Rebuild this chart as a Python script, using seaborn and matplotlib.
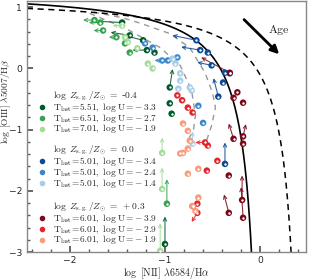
import numpy as np
import matplotlib
matplotlib.use('Agg')
import matplotlib.pyplot as plt
import pandas as pd
import seaborn as sns

# model tracks: x = log [NII]/Ha, y = log [OIII]/Hb
dg_x = [-1.45, -1.37, -1.23, -1.19, -1.11, -0.95, -0.95, -0.93, -1.00]
dg_y = [0.75, 0.54, 0.46, 0.30, 0.26, -0.31, -0.57, -0.74, -2.87]
dg_dx = [-0.25, -0.2, -0.2, -0.15, 0.0, 0.03, 0.0, 0.0, 0.0]
dg_dy = [0.02, 0.05, 0.08, 0.0, 0.0, 0.3, 0.0, 0.0, 0.45]

mg_x = [-1.74, -1.68, -1.65, -1.51, -1.42, -1.37, -0.98]
mg_y = [0.79, 0.75, 0.62, 0.51, 0.41, 0.26, -2.21]
mg_dx = [-0.12, -0.12, -0.1, -0.08, 0.0, 0.0, 0.0]
mg_dy = [0.0, 0.0, 0.0, 0.0, 0.0, 0.0, 0.4]

lg_x = [-1.45, -1.42, -1.39, -1.29, -1.18, -1.13, -1.03, -1.03, -1.05]
lg_y = [0.70, 0.51, 0.43, 0.33, 0.08, 0.00, -1.38, -1.97, -2.98]
lg_dx = [-0.1, 0.0, 0.0, 0.0, 0.0, 0.0, 0.0, 0.0, 0.0]
lg_dy = [0.0, 0.0, 0.0, 0.0, 0.0, 0.0, 0.25, 0.35, 0.45]

db_x = [-0.67, -0.63, -0.55, -0.51, -0.37, -0.32, -0.39, -0.44, -0.37]
db_y = [0.46, 0.30, 0.26, 0.05, -0.07, -0.08, -0.23, -0.46, -1.56]
db_dx = [-0.25, -0.2, 0.0, -0.15, 0.0, 0.0, 0.0, -0.05, 0.0]
db_dy = [0.08, 0.05, 0.0, 0.05, 0.0, 0.0, 0.0, 0.3, 0.35]

mb_x = [-1.21, -1.13, -1.03, -0.97, -0.87, -0.65, -0.60]
mb_y = [0.41, 0.34, 0.13, 0.13, 0.18, -0.61, -0.89]
mb_dx = [0.0, 0.0, -0.08, 0.0, 0.0, 0.0, 0.0]
mb_dy = [0.0, 0.0, 0.0, 0.0, 0.0, 0.0, 0.0]

lb_x = [-0.92, -0.89, -0.84, -0.84, -0.86, -0.74, -0.72, -0.71]
lb_y = [0.16, 0.08, -0.08, -0.20, -0.33, -0.31, -0.36, -1.23]
lb_dx = [0.0] * 8
lb_dy = [0.0, 0.0, 0.0, 0.0, 0.0, 0.0, 0.0, 0.2]

dr_x = [-0.32, -0.24, -0.28, -0.18, -0.28, -0.18, -0.18, -0.33, -0.19, -0.33, -0.18]
dr_y = [-0.07, -0.39, -0.48, -0.56, -1.15, -1.11, -1.23, -1.75, -2.15, -2.36, -2.44]
dr_dx = [-0.3, 0.0, 0.0, 0.0, -0.05, 0.03, 0.0, 0.0, 0.0, -0.05, -0.02]
dr_dy = [0.25, 0.0, 0.0, 0.0, 0.25, 0.2, 0.0, 0.0, 0.4, 0.3, 0.5]

mr_x = [-0.87, -0.82, -0.76, -0.71, -0.58, -0.55, -0.45, -0.56, -0.66, -0.71, -0.66]
mr_y = [-0.44, -0.52, -0.64, -0.72, -1.21, -1.26, -1.51, -1.67, -2.21, -2.25, -2.36]
mr_dx = [0.0, 0.0, 0.0, 0.0, -0.1, 0.0, 0.0, 0.0, 0.0, 0.0, -0.06]
mr_dy = [0.0, 0.0, 0.0, 0.0, 0.0, 0.0, 0.0, 0.0, 0.0, 0.0, -0.15]

lr_x = [-0.81, -0.76, -0.74, -0.76, -0.81, -0.84, -0.76, -0.65, -0.65, -0.71, -0.68]
lr_y = [-0.90, -1.02, -1.18, -1.31, -1.38, -1.39, -1.72, -1.64, -2.11, -2.25, -2.33]
lr_dx = [0.0] * 11
lr_dy = [0.0] * 11

# grey dashed reference arcs
arc1_x = [-1.75, -1.45, -1.26, -0.95, -0.74, -0.58, -0.50, -0.47, -0.51, -0.58]
arc1_y = [0.92, 0.83, 0.74, 0.57, 0.34, -0.07, -0.40, -0.64, -0.93, -1.26]
arc2_x = [-1.79, -1.42, -1.05, -0.84, -0.72, -0.68, -0.70, -0.76]
arc2_y = [0.90, 0.66, 0.34, 0.05, -0.36, -0.77, -1.00, -1.18]

series = [
    ('g1', dg_x, dg_y, dg_dx, dg_dy),
    ('g2', mg_x, mg_y, mg_dx, mg_dy),
    ('g3', lg_x, lg_y, lg_dx, lg_dy),
    ('b1', db_x, db_y, db_dx, db_dy),
    ('b2', mb_x, mb_y, mb_dx, mb_dy),
    ('b3', lb_x, lb_y, lb_dx, lb_dy),
    ('r1', dr_x, dr_y, dr_dx, dr_dy),
    ('r2', mr_x, mr_y, mr_dx, mr_dy),
    ('r3', lr_x, lr_y, lr_dx, lr_dy),
]
colors = {'g1': '#00592a', 'g2': '#35a24f', 'g3': '#a3dc9a',
          'b1': '#0c4a92', 'b2': '#3a87c8', 'b3': '#a6cde6',
          'r1': '#7a0a19', 'r2': '#e0262a', 'r3': '#fc9a7c'}
labels = {'g1': r'$\mathrm{T_{last}\!=\!5.51,\ log\ U\!=\!-3.3}$',
          'g2': r'$\mathrm{T_{last}\!=\!6.51,\ log\ U\!=\!-2.7}$',
          'g3': r'$\mathrm{T_{last}\!=\!7.01,\ log\ U\!=\!-1.9}$',
          'b1': r'$\mathrm{T_{last}\!=\!5.01,\ log\ U\!=\!-3.4}$',
          'b2': r'$\mathrm{T_{last}\!=\!5.01,\ log\ U\!=\!-2.4}$',
          'b3': r'$\mathrm{T_{last}\!=\!5.01,\ log\ U\!=\!-1.4}$',
          'r1': r'$\mathrm{T_{last}\!=\!6.01,\ log\ U\!=\!-3.9}$',
          'r2': r'$\mathrm{T_{last}\!=\!6.01,\ log\ U\!=\!-2.9}$',
          'r3': r'$\mathrm{T_{last}\!=\!6.01,\ log\ U\!=\!-1.9}$'}
groups = [(['g1', 'g2', 'g3'], r'$\log\ Z_{\rm s.g.}/Z_{\odot}\ =\ $-$0.4$', 0.622),
          (['b1', 'b2', 'b3'], r'$\log\ Z_{\rm s.g.}/Z_{\odot}\ =\ 0.0$', 0.406),
          (['r1', 'r2', 'r3'], r'$\log\ Z_{\rm s.g.}/Z_{\odot}\ =\ +0.3$', 0.179)]

sns.set_theme(style='ticks')
plt.rcParams['font.family'] = ['DejaVu Sans']
plt.rcParams['mathtext.fontset'] = 'cm'

rows = []
for key, xs, ys, dxs, dys in series:
    for x, y, dx, dy in zip(xs, ys, dxs, dys):
        rows.append((key, x, y, dx, dy))
df = pd.DataFrame(rows, columns=['model', 'x', 'y', 'dx', 'dy'])

fig = plt.figure(figsize=(3.09, 2.8), dpi=100)
ax = fig.add_axes([0.087, 0.1, 0.903, 0.896])

# demarcation lines
xk = np.linspace(-2.45, -0.09, 200)
ax.plot(xk, 0.61 / (xk - 0.05) + 1.3, color='black', lw=1.2, zorder=2)
xw = np.linspace(-2.45, 0.33, 200)
ax.plot(xw, 0.61 / (xw - 0.47) + 1.19, color='black', lw=1.1, ls=(0, (4, 3)), zorder=2)
ax.plot(arc1_x, arc1_y, color='#999999', lw=1.0, ls=(0, (4, 3.5)), zorder=1)
ax.plot(arc2_x, arc2_y, color='#999999', lw=1.0, ls=(0, (4, 3.5)), zorder=1)

# evolution arrows
for _, r in df.iterrows():
    if r.dx != 0 or r.dy != 0:
        ax.annotate('', xy=(r.x + r.dx, r.y + r.dy), xytext=(r.x, r.y),
                    arrowprops=dict(arrowstyle='->', color=colors[r.model], lw=0.8,
                                    alpha=0.85, shrinkA=0, shrinkB=0, mutation_scale=6),
                    zorder=3)

sns.scatterplot(data=df, x='x', y='y', hue='model', palette=colors, s=22,
                linewidth=0, legend=False, ax=ax, zorder=4)
ax.scatter(df.x, df.y, s=3, color='white', linewidth=0, zorder=5)

ax.annotate('', xy=(0.22, 0.2), xytext=(-0.19, 0.83),
            arrowprops=dict(arrowstyle='-|>', color='black', lw=2, mutation_scale=12))
ax.text(0.2, 0.62, r'$\mathrm{Age}$', fontsize=8.5, ha='center', va='center')

ax.set_xlim(-2.45, 0.48)
ax.set_ylim(-3, 1.1)
ax.set_xticks([-2, -1, 0])
ax.set_yticks([-3, -2, -1, 0, 1])
ax.set_xticks(np.arange(-2.4, 0.5, 0.2), minor=True)
ax.set_yticks(np.arange(-3, 1.1, 0.2), minor=True)
ax.tick_params(which='both', direction='in', labelsize=6.6, color='#555555')
ax.tick_params(axis='y', pad=3.5)
ax.tick_params(axis='x', pad=3)
ax.tick_params(which='major', length=4)
ax.tick_params(which='minor', length=2)
for sp in ax.spines.values():
    sp.set_color('#888888')
    sp.set_linewidth(1)
ax.set_xlabel(r'$\log\ [\mathrm{NII}]\ \lambda6584/\mathrm{H}\alpha$', fontsize=7.2, va='center')
ax.set_ylabel(r'$\log\ [\mathrm{OIII}]\ \lambda5007/\mathrm{H}\beta$', fontsize=6.8, va='center')
ax.xaxis.set_label_coords(0.5, -0.085)
ax.yaxis.set_label_coords(-0.074, 0.6)

# legend blocks
step = 0.043
for keys, title, ytop in groups:
    ax.text(0.093, ytop, title, transform=ax.transAxes, fontsize=6.8,
            ha='left', va='center')
    for i, k in enumerate(keys):
        yy = ytop - step * (i + 1) - 0.002
        ax.scatter([0.054], [yy], s=16, color=colors[k], linewidth=0,
                   transform=ax.transAxes, zorder=6)
        ax.text(0.093, yy, labels[k], transform=ax.transAxes, fontsize=6.8,
                ha='left', va='center')

fig.savefig('out.png', dpi=100)
